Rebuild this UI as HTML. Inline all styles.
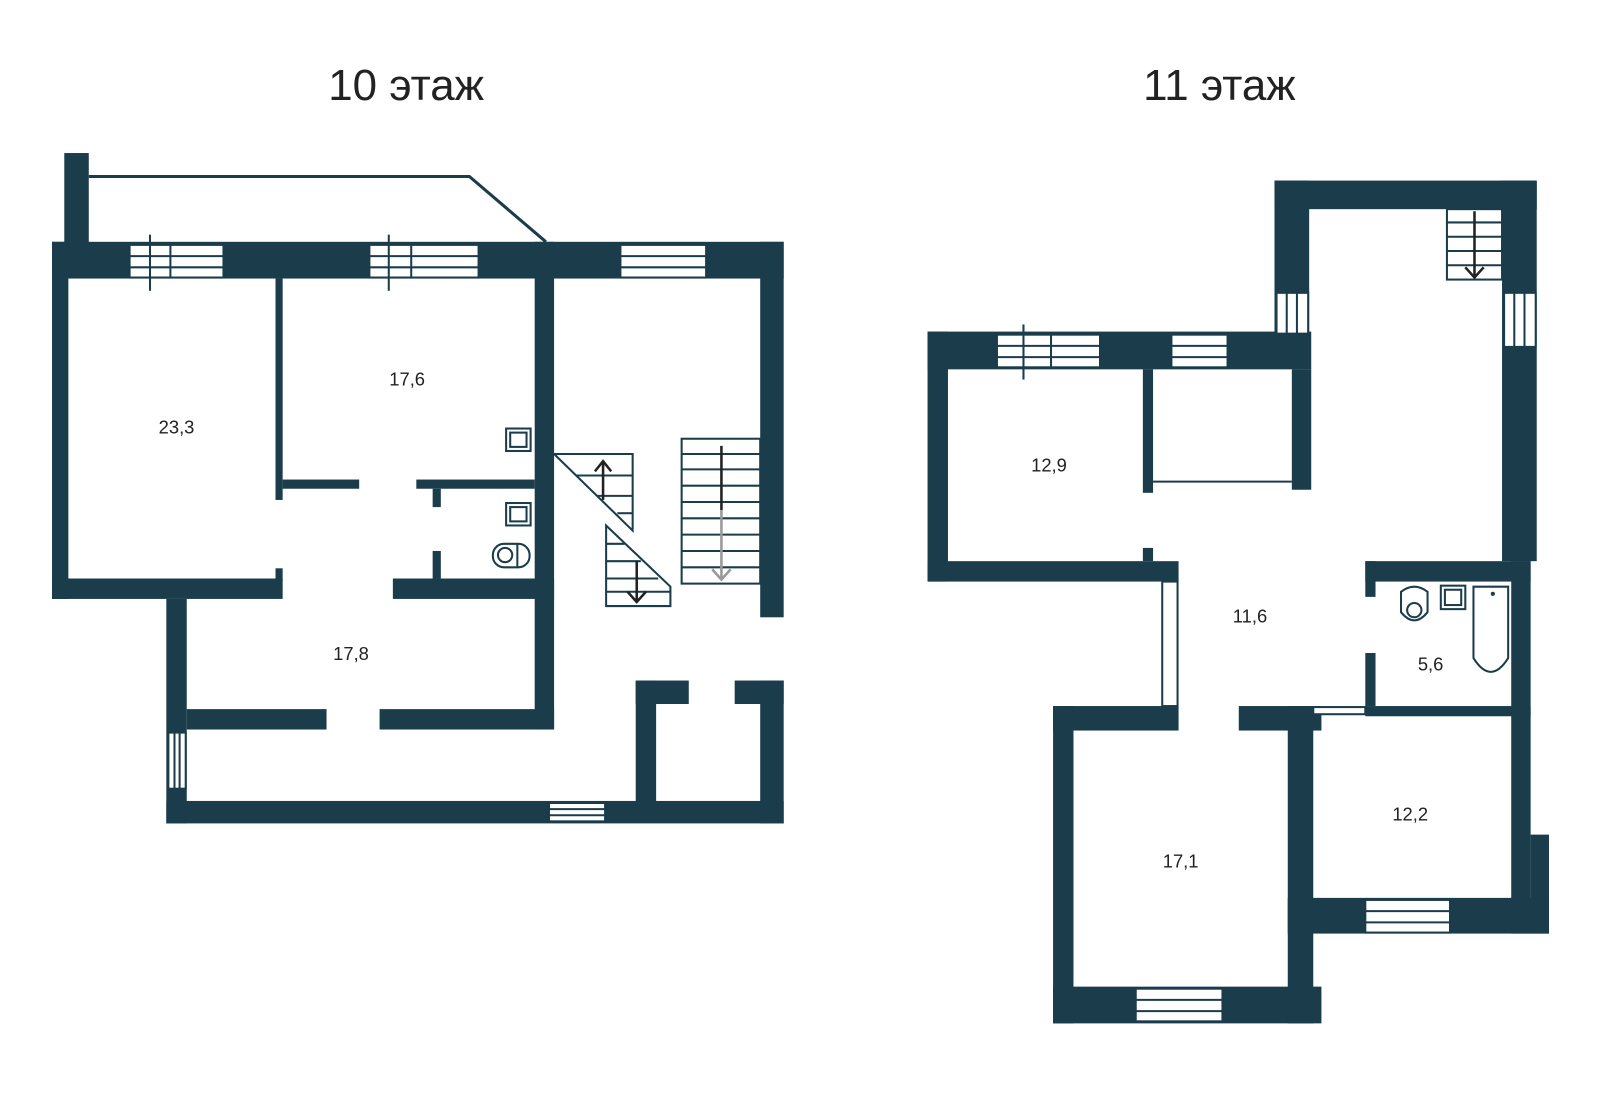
<!DOCTYPE html>
<html><head><meta charset="utf-8"><style>
html,body{margin:0;padding:0;background:#fff;}
svg{display:block}
text{font-family:"Liberation Sans",sans-serif;fill:#222}
</style></head><body>
<svg width="1600" height="1105" viewBox="0 0 1568 1083" preserveAspectRatio="none" xmlns="http://www.w3.org/2000/svg">
<rect width="1568" height="1083" fill="#fff"/>
<text x="398" y="98" font-size="43" text-anchor="middle">10 этаж</text>
<text x="1195" y="98" font-size="43" text-anchor="middle">11 этаж</text>
<g fill="#1a3c4b">
<rect x="63" y="150" width="24" height="88"/>
<rect x="51" y="237" width="717" height="36"/>
<rect x="51" y="237" width="16" height="350"/>
<rect x="745" y="237" width="23" height="368"/>
<rect x="524" y="237" width="19" height="478"/>
<rect x="270" y="273" width="7" height="217"/>
<rect x="277" y="470" width="75" height="9"/>
<rect x="408" y="470" width="116" height="9"/>
<rect x="424" y="479" width="8" height="18"/>
<rect x="424" y="540" width="8" height="27"/>
<rect x="51" y="567" width="226" height="20"/>
<rect x="270" y="557" width="7" height="12"/>
<rect x="385" y="567" width="158" height="20"/>
<rect x="163" y="587" width="20" height="220"/>
<rect x="183" y="695" width="137" height="20"/>
<rect x="372" y="695" width="171" height="20"/>
<rect x="163" y="785" width="605" height="22"/>
<rect x="623" y="667" width="20" height="120"/>
<rect x="623" y="667" width="52" height="23"/>
<rect x="720" y="667" width="48" height="23"/>
<rect x="745" y="667" width="23" height="140"/>
<rect x="1249" y="177" width="257" height="28"/>
<rect x="1249" y="177" width="34" height="150"/>
<rect x="1472" y="177" width="34" height="373"/>
<rect x="909" y="325" width="376" height="37"/>
<rect x="909" y="325" width="20" height="245"/>
<rect x="909" y="550" width="246" height="20"/>
<rect x="1120" y="362" width="10" height="121"/>
<rect x="1120" y="537" width="10" height="13"/>
<rect x="1266" y="362" width="19" height="118"/>
<rect x="1032" y="692" width="123" height="24"/>
<rect x="1214" y="692" width="81" height="24"/>
<rect x="1032" y="692" width="20" height="311"/>
<rect x="1032" y="967" width="263" height="36"/>
<rect x="1262" y="692" width="25" height="311"/>
<rect x="1338" y="550" width="162" height="20"/>
<rect x="1338" y="550" width="10" height="35"/>
<rect x="1338" y="640" width="10" height="52"/>
<rect x="1338" y="692" width="162" height="10"/>
<rect x="1481" y="550" width="19" height="365"/>
<rect x="1262" y="880" width="256" height="35"/>
<rect x="1500" y="818" width="18" height="97"/>
</g>
<g fill="#fff" stroke="#1a3c4b" stroke-width="2">
<rect x="127" y="240" width="92" height="32"/><line x1="127" y1="251" x2="219" y2="251"/><line x1="127" y1="262" x2="219" y2="262"/><line x1="167" y1="240" x2="167" y2="272"/>
<rect x="362" y="240" width="107" height="32"/><line x1="362" y1="251" x2="469" y2="251"/><line x1="362" y1="262" x2="469" y2="262"/><line x1="403" y1="240" x2="403" y2="272"/>
<rect x="608" y="240" width="84" height="32"/><line x1="608" y1="251" x2="692" y2="251"/><line x1="608" y1="262" x2="692" y2="262"/>
<rect x="165" y="718" width="17" height="55"/><line x1="171" y1="718" x2="171" y2="773"/><line x1="176" y1="718" x2="176" y2="773"/>
<rect x="538" y="787" width="55" height="18"/><line x1="538" y1="793" x2="593" y2="793"/><line x1="538" y1="799" x2="593" y2="799"/>
<rect x="1251" y="287" width="31" height="40"/><line x1="1261" y1="287" x2="1261" y2="327"/><line x1="1271" y1="287" x2="1271" y2="327"/>
<rect x="1474" y="287" width="31" height="53"/><line x1="1484" y1="287" x2="1484" y2="340"/><line x1="1494" y1="287" x2="1494" y2="340"/>
<rect x="977" y="328" width="101" height="32"/><line x1="977" y1="339" x2="1078" y2="339"/><line x1="977" y1="350" x2="1078" y2="350"/><line x1="1030" y1="328" x2="1030" y2="360"/>
<rect x="1148" y="328" width="55" height="32"/><line x1="1148" y1="339" x2="1203" y2="339"/><line x1="1148" y1="350" x2="1203" y2="350"/>
<rect x="1139" y="570" width="15" height="122"/>
<rect x="1287" y="693" width="51" height="7"/>
<rect x="1113" y="969" width="85" height="32"/><line x1="1113" y1="980" x2="1198" y2="980"/><line x1="1113" y1="991" x2="1198" y2="991"/>
<rect x="1338" y="882" width="83" height="32"/><line x1="1338" y1="893" x2="1421" y2="893"/><line x1="1338" y1="904" x2="1421" y2="904"/>
</g>
<g stroke="#1a3c4b" stroke-width="2" fill="none">
<line x1="147" y1="230" x2="147" y2="285"/><line x1="381" y1="230" x2="381" y2="285"/><line x1="1003" y1="318" x2="1003" y2="372"/>
<polyline points="87,173 460,173 535,237" stroke-width="3"/>
<line x1="1130" y1="472" x2="1266" y2="472"/>
<polygon points="543,445 620,445 620,520"/>
<line x1="564" y1="466" x2="620" y2="466"/><line x1="585" y1="486" x2="620" y2="486"/><line x1="605" y1="503" x2="620" y2="503"/>
<polygon points="594,515 594,594 657,594 657,575"/>
<line x1="594" y1="533" x2="612" y2="533"/><line x1="594" y1="550" x2="628" y2="550"/><line x1="594" y1="567" x2="645" y2="567"/><line x1="594" y1="580" x2="657" y2="580"/>
<rect x="668" y="430" width="77" height="142"/>
<line x1="668" y1="445" x2="745" y2="445"/><line x1="668" y1="460" x2="745" y2="460"/><line x1="668" y1="476" x2="745" y2="476"/><line x1="668" y1="492" x2="745" y2="492"/><line x1="668" y1="508" x2="745" y2="508"/><line x1="668" y1="524" x2="745" y2="524"/><line x1="668" y1="540" x2="745" y2="540"/><line x1="668" y1="556" x2="745" y2="556"/>
<rect x="1418" y="205" width="54" height="69"/>
<line x1="1418" y1="218" x2="1472" y2="218"/><line x1="1418" y1="232" x2="1472" y2="232"/><line x1="1418" y1="246" x2="1472" y2="246"/><line x1="1418" y1="260" x2="1472" y2="260"/>
<rect x="496" y="420" width="24" height="22"/><rect x="500" y="424" width="16" height="14"/>
<rect x="496" y="493" width="24" height="22"/><rect x="500" y="497" width="16" height="14"/>
<rect x="483" y="533" width="36" height="23" rx="11"/><circle cx="495" cy="544" r="7"/><line x1="507" y1="533" x2="507" y2="556"/>
<rect x="1412" y="574" width="24" height="23"/><rect x="1416" y="578" width="16" height="15"/>
<path d="M1373 580 Q1386 570 1399 580 L1399 600 Q1386 616 1373 600 Z"/><circle cx="1386" cy="598" r="7"/>
<path d="M1444 575 L1478 575 L1478 645 Q1461 672 1444 645 Z"/>
</g>
<g stroke="#222" stroke-width="2.5" fill="none">
<line x1="591" y1="452" x2="591" y2="490"/><polyline points="583,462 591,452 599,462"/>
<line x1="624" y1="550" x2="624" y2="590"/><polyline points="615,580 624,590 633,580"/>
<line x1="707" y1="437" x2="707" y2="500"/>
<line x1="1445" y1="207" x2="1445" y2="272"/><polyline points="1436,262 1445,272 1454,262"/>
</g>
<g stroke="#999" stroke-width="2.5" fill="none"><line x1="707" y1="500" x2="707" y2="568"/><polyline points="698,558 707,568 716,558"/></g>
<circle cx="1463" cy="582" r="2" fill="#1a3c4b"/>
<g font-size="18" text-anchor="middle">
<text x="173" y="425">23,3</text>
<text x="399" y="378">17,6</text>
<text x="344" y="647">17,8</text>
<text x="1028" y="462">12,9</text>
<text x="1225" y="610">11,6</text>
<text x="1402" y="657">5,6</text>
<text x="1382" y="804">12,2</text>
<text x="1157" y="850">17,1</text>
</g>
</svg>
</body></html>
